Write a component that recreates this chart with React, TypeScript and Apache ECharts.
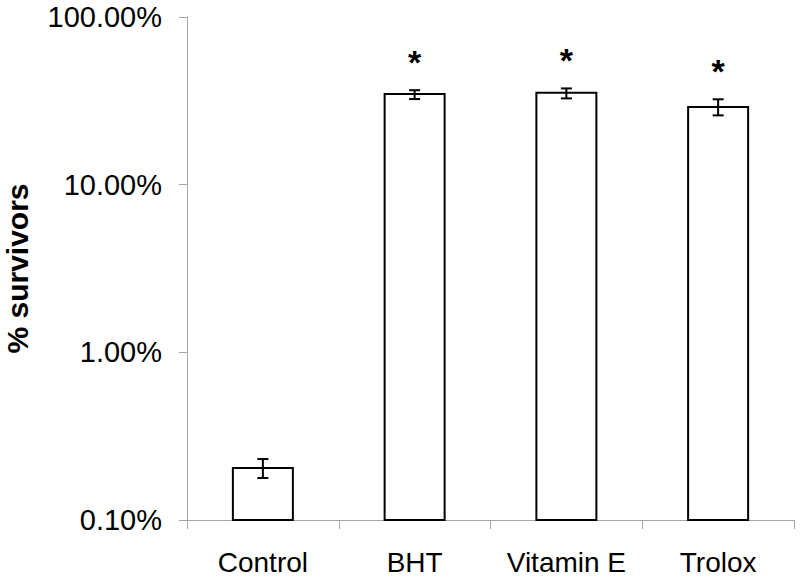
import React, { useEffect, useRef } from "react";
import * as echarts from "echarts";

const categories = ["Control", "BHT", "Vitamin E", "Trolox"];
const survivors = [0.204, 34.7, 35.3, 29.1];
const errLow = [0.178, 32.4, 32.7, 25.9];
const errHigh = [0.231, 36.6, 37.5, 32.3];
const significant = [false, true, true, true];
const yTicks = [0.1, 1, 10, 100];

const FONT = "'Liberation Sans', Arial, Helvetica, sans-serif";

export default function App() {
  const ref = useRef<HTMLDivElement>(null);
  useEffect(() => {
    if (!ref.current) return;
    const chart = echarts.init(ref.current, null, { renderer: "svg" });
    const barData = categories.map((_, i) => [i, survivors[i]]);
    const errData = categories.map((_, i) => [i, errLow[i], errHigh[i], significant[i] ? 1 : 0]);
    const base = yTicks[0];
    chart.setOption({
      animation: false,
      backgroundColor: "#ffffff",
      grid: { left: 187, right: 6, top: 17, bottom: 59, containLabel: false, outerBoundsMode: "none" },
      xAxis: {
        type: "category",
        data: categories,
        boundaryGap: true,
        axisLine: { lineStyle: { color: "#a6a6a6", width: 1 } },
        axisTick: { show: true, length: 9, alignWithLabel: false, interval: 0, lineStyle: { color: "#a6a6a6" } },
        axisLabel: { color: "#000", fontFamily: FONT, fontSize: 28, margin: 28, interval: 0, hideOverlap: false },
        splitLine: { show: false },
      },
      yAxis: {
        type: "log",
        logBase: 10,
        min: yTicks[0],
        max: yTicks[yTicks.length - 1],
        name: "% survivors",
        nameLocation: "middle",
        nameGap: 155,
        nameTextStyle: { color: "#000", fontFamily: FONT, fontSize: 30, fontWeight: "bold" },
        axisLine: { show: true, lineStyle: { color: "#a6a6a6", width: 1 } },
        axisTick: { show: true, length: 8, lineStyle: { color: "#a6a6a6" } },
        axisLabel: {
          color: "#000",
          fontFamily: FONT,
          fontSize: 29,
          margin: 25,
          formatter: (v: number) => v.toFixed(2) + "%",
        },
        splitLine: { show: false },
        minorTick: { show: false },
      },
      series: [
        {
          type: "custom",
          name: "bars",
          data: barData,
          encode: { x: 0, y: 1 },
          z: 2,
          renderItem: (params: any, api: any) => {
            const i = api.value(0);
            const top = api.coord([i, api.value(1)]);
            const bottom = api.coord([i, base]);
            const w = 60;
            return {
              type: "rect",
              shape: { x: top[0] - w / 2, y: top[1], width: w, height: bottom[1] - top[1] },
              style: { fill: "#ffffff", stroke: "#000000", lineWidth: 2 },
            };
          },
        },
        {
          type: "custom",
          name: "errors",
          data: errData,
          encode: { x: 0, y: [1, 2] },
          z: 3,
          renderItem: (params: any, api: any) => {
            const i = api.value(0);
            const lo = api.coord([i, api.value(1)]);
            const hi = api.coord([i, api.value(2)]);
            const half = 5.5;
            const style = { stroke: "#000", lineWidth: 2 };
            const children: any[] = [
              { type: "line", shape: { x1: lo[0], y1: lo[1], x2: hi[0], y2: hi[1] }, style },
              { type: "line", shape: { x1: lo[0] - half, y1: lo[1], x2: lo[0] + half, y2: lo[1] }, style },
              { type: "line", shape: { x1: hi[0] - half, y1: hi[1], x2: hi[0] + half, y2: hi[1] }, style },
            ];
            if (api.value(3) === 1) {
              children.push({
                type: "text",
                style: {
                  text: "*",
                  x: hi[0],
                  y: hi[1] - 28,
                  align: "center",
                  verticalAlign: "middle",
                  fontFamily: FONT,
                  fontSize: 34,
                  fontWeight: "bold",
                  fill: "#000",
                },
              });
            }
            return { type: "group", children };
          },
        },
      ],
    });
    return () => chart.dispose();
  }, []);
  return <div ref={ref} style={{ width: 800, height: 579, position: "absolute", left: 0, top: 0 }} />;
}
